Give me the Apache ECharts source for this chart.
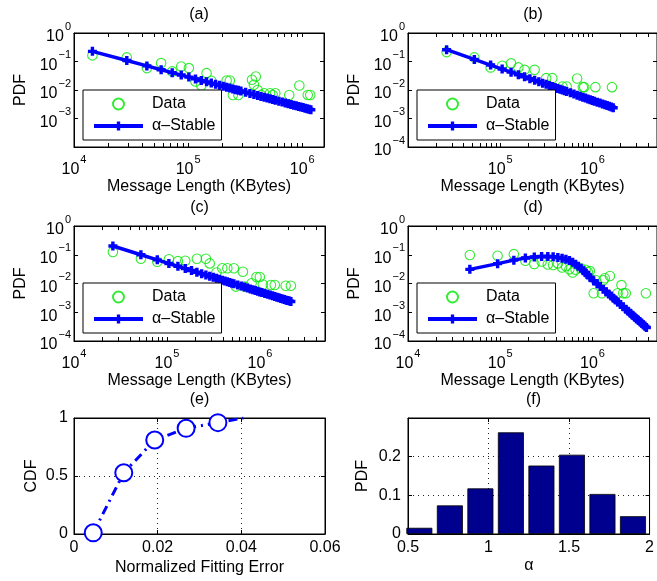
<!DOCTYPE html>
<html><head><meta charset="utf-8">
<script src="https://cdn.jsdelivr.net/npm/echarts@6/dist/echarts.min.js"></script>
<style>html,body{margin:0;padding:0;background:#fff;overflow:hidden}#c{width:657px;height:581px}</style>
</head><body><div id="c"></div><script>
// ---------------- data ----------------
const panelTitles = ['(a)', '(b)', '(c)', '(d)', '(e)', '(f)'];
const seriesNames = ['Data', '\u03B1\u2013Stable'];
const xNameLog = 'Message Length (KBytes)';
const yNameLog = 'PDF';

// (a)
const aDataX = [14500, 29000, 43500, 58000, 72500, 87000, 101500, 116000, 130500, 145000, 159500, 217500, 232000, 246500, 275500, 362500, 377000, 391500, 406000, 435000, 464000, 522000, 551000, 580000, 768500, 942500, 1116500, 1174500];
const aDataY = [0.164, 0.139, 0.0586, 0.088, 0.045, 0.067, 0.0586, 0.020, 0.0144, 0.039, 0.021, 0.0215, 0.0215, 0.0067, 0.0067, 0.0228, 0.0152, 0.0297, 0.0100, 0.0067, 0.0077, 0.0077, 0.0067, 0.0077, 0.0067, 0.0144, 0.0067, 0.0067];
const aLineX = [14500, 29000, 43500, 58000, 72500, 87000, 101500, 116000, 130500, 145000, 159500, 174000, 188500, 203000, 217500, 232000, 246500, 261000, 275500, 290000, 319000, 348000, 377000, 406000, 435000, 464000, 493000, 522000, 551000, 580000, 623500, 667000, 710500, 754000, 797500, 841000, 884500, 928000, 971500, 1015000, 1058500, 1102000, 1145500, 1189000];
const aLineY = [0.227, 0.1081, 0.0701, 0.0515, 0.0406, 0.0334, 0.0283, 0.0245, 0.0216, 0.0193, 0.01745, 0.0159, 0.01459, 0.01348, 0.01252, 0.01168, 0.01095, 0.0103, 0.00972, 0.0092, 0.00831, 0.00757, 0.00695, 0.00642, 0.00596, 0.00557, 0.00522, 0.00491, 0.00463, 0.00438, 0.00406, 0.00377, 0.00353, 0.00331, 0.00312, 0.00294, 0.00279, 0.00265, 0.00252, 0.00241, 0.0023, 0.00221, 0.00212, 0.00203];

// (b)
const bDataX = [26200, 52400, 78600, 104800, 131000, 157200, 183400, 235800, 314400, 366800, 471600, 524000, 681200, 786000, 812200, 1074200, 1624400];
const bDataY = [0.214, 0.139, 0.062, 0.071, 0.086, 0.062, 0.051, 0.051, 0.026, 0.026, 0.0133, 0.0133, 0.0254, 0.0126, 0.0126, 0.0126, 0.0126];
const bLineX = [26200, 52400, 78600, 104800, 131000, 157200, 183400, 209600, 235800, 262000, 288200, 314400, 340600, 366800, 393000, 419200, 445400, 471600, 497800, 524000, 576400, 628800, 681200, 733600, 786000, 838400, 890800, 943200, 995600, 1048000, 1126600, 1205200, 1283800, 1362400, 1441000, 1519600, 1598200, 1676800];
const bLineY = [0.259, 0.1186, 0.0751, 0.0543, 0.0423, 0.0344, 0.0289, 0.0249, 0.0218, 0.01936, 0.0174, 0.01577, 0.01441, 0.01326, 0.01227, 0.0114, 0.01065, 0.00999, 0.0094, 0.00887, 0.00797, 0.00723, 0.0066, 0.00608, 0.00562, 0.00523, 0.00488, 0.00458, 0.00431, 0.00406, 0.00375, 0.00347, 0.00323, 0.00303, 0.00284, 0.00268, 0.00253, 0.00239];

// (c)
const cDataX = [26200, 52400, 78600, 104800, 131000, 157200, 209600, 262000, 288200, 340600, 393000, 445400, 524000, 550200, 655000, 681200, 812200, 917000, 995600, 1074200, 1310000, 1441000, 1886400, 2148400];
const cDataY = [0.125, 0.073, 0.057, 0.07, 0.06, 0.062, 0.073, 0.073, 0.05, 0.024, 0.034, 0.034, 0.034, 0.0078, 0.0257, 0.0078, 0.0102, 0.0168, 0.0168, 0.0092, 0.0089, 0.0089, 0.0084, 0.0084];
const cLineX = [26200, 52400, 78600, 104800, 131000, 157200, 183400, 209600, 235800, 262000, 288200, 314400, 340600, 366800, 393000, 419200, 445400, 471600, 497800, 524000, 576400, 628800, 681200, 733600, 786000, 838400, 890800, 943200, 995600, 1048000, 1126600, 1205200, 1283800, 1362400, 1441000, 1519600, 1598200, 1676800, 1755400, 1834000, 1912600, 1991200, 2069800, 2148400];
const cLineY = [0.201, 0.1, 0.0664, 0.0497, 0.0396, 0.033, 0.0282, 0.0247, 0.0219, 0.01968, 0.01788, 0.01637, 0.0151, 0.014, 0.01306, 0.01224, 0.01151, 0.01087, 0.01029, 0.00977, 0.00887, 0.00813, 0.0075, 0.00696, 0.00649, 0.00608, 0.00572, 0.0054, 0.00511, 0.00485, 0.00451, 0.00421, 0.00395, 0.00372, 0.00352, 0.00333, 0.00317, 0.00302, 0.00288, 0.00276, 0.00264, 0.00254, 0.00244, 0.00235];

// (d)
const dDataX = [46800, 93600, 140400, 187200, 234000, 280800, 327600, 374400, 421200, 468000, 514800, 561600, 608400, 655200, 748800, 842400, 889200, 936000, 1029600, 1076400, 1263600, 1310400, 1357200, 1544400, 1872000, 2059200, 2152800, 2293200, 3790800];
const dDataY = [0.098, 0.092, 0.105, 0.062, 0.048, 0.058, 0.046, 0.044, 0.05, 0.036, 0.04, 0.031, 0.024, 0.03, 0.034, 0.03, 0.025, 0.027, 0.0046, 0.0132, 0.0046, 0.013, 0.0152, 0.0183, 0.0046, 0.0088, 0.0046, 0.0046, 0.0046];
const dLineX = [46800, 93600, 140400, 187200, 234000, 280800, 327600, 374400, 421200, 468000, 514800, 561600, 608400, 655200, 702000, 748800, 795600, 842400, 889200, 936000, 1029600, 1123200, 1216800, 1310400, 1404000, 1497600, 1591200, 1684800, 1778400, 1872000, 2012400, 2152800, 2293200, 2433600, 2574000, 2714400, 2854800, 2995200, 3135600, 3276000, 3416400, 3556800, 3697200, 3837600];
const dLineY = [0.031, 0.049, 0.065, 0.077, 0.084, 0.087, 0.087, 0.085, 0.081, 0.076, 0.070, 0.063, 0.055, 0.047, 0.040, 0.034, 0.028, 0.0235, 0.0196, 0.0165, 0.01258, 0.00981, 0.00781, 0.00632, 0.0052, 0.00432, 0.00364, 0.00309, 0.00265, 0.00229, 0.00186, 0.00154, 0.00128, 0.00108, 0.000923, 0.000794, 0.000688, 0.0006, 0.000526, 0.000464, 0.000412, 0.000367, 0.000329, 0.000296];

// (e) CDF of normalized fitting error
const eX = [0.0046, 0.0119, 0.0193, 0.0268, 0.0344, 0.0405];
const eY = [0.01, 0.528, 0.81, 0.911, 0.96, 1.0];
const eMarkedCount = 5;
const eXName = 'Normalized Fitting Error';
const eYName = 'CDF';

// (f) histogram of alpha
const fCenters = [0.5705, 0.760, 0.9495, 1.139, 1.3285, 1.518, 1.7075, 1.897];
const fValues = [0.016, 0.074, 0.118, 0.263, 0.177, 0.205, 0.1035, 0.046];
const fXName = '\u03B1';
const fYName = 'PDF';

// tick labels
const logXLabelsA = [1e4, 1e5, 1e6];
const logXLabelsB = [1e5, 1e6];
const logYLabelsA = [1e-3, 1e-2, 1e-1, 1];
const logYLabelsFull = [1e-4, 1e-3, 1e-2, 1e-1, 1];
const eXTicks = [0, 0.02, 0.04, 0.06];
const eYTicks = [0, 0.5, 1];
const fXTicks = [0.5, 1, 1.5, 2];
const fYTicks = [0, 0.1, 0.2];

// ---------------- styling / layout ----------------
const FONT = '"Liberation Sans", Arial, Helvetica, sans-serif';
const BLUE = '#0000FF', GREEN = '#00E600', NAVY = '#00008F', BLACK = '#000';
const PLUS = 'path://M3.1,0H6.9V3.1H10V6.9H6.9V10H3.1V6.9H0V3.1H3.1Z';
const pts = (xs, ys) => xs.map((x, i) => [x, ys[i]]);

const grids = [
  {left: 74, top: 33, width: 250, height: 114},
  {left: 408, top: 33, width: 250, height: 114},
  {left: 74, top: 226, width: 251, height: 115},
  {left: 408, top: 226, width: 250, height: 115},
  {left: 74, top: 418, width: 251, height: 116},
  {left: 408, top: 418, width: 251, height: 116}
];

const logPanels = [
  {xMax: 1.55e6, xLabels: logXLabelsA, yLabels: logYLabelsA, dX: aDataX, dY: aDataY, lX: aLineX, lY: aLineY, legend: {left: 83, top: 90}},
  {xMax: 5e6, xLabels: logXLabelsB, yLabels: logYLabelsFull, dX: bDataX, dY: bDataY, lX: bLineX, lY: bLineY, legend: {left: 417, top: 90}},
  {xMax: 5e6, xLabels: logXLabelsA, yLabels: logYLabelsFull, dX: cDataX, dY: cDataY, lX: cLineX, lY: cLineY, legend: {left: 83, top: 283}},
  {xMax: 5e6, xLabels: logXLabelsA, yLabels: logYLabelsFull, dX: dDataX, dY: dDataY, lX: dLineX, lY: dLineY, legend: {left: 417, top: 283}}
];

function logLabel(v) {
  const l = Math.log10(v), e = Math.round(l);
  if (Math.abs(l - e) > 1e-6) return '';
  return '{b|10}{e|' + (e < 0 ? '\u2212' + (-e) : e) + '}';
}
const logRich = {
  b: {fontSize: 16, fontFamily: FONT, color: BLACK, lineHeight: 24, verticalAlign: 'bottom'},
  e: {fontSize: 11, fontFamily: FONT, color: BLACK, lineHeight: 11, verticalAlign: 'top', padding: [0, 0, 0, 1]}
};
function logTickValues(lo, hi) {
  const out = [];
  for (let p = Math.floor(Math.log10(lo)); p <= Math.ceil(Math.log10(hi)); p++) {
    for (let m = 1; m <= 9; m++) {
      const v = m * Math.pow(10, p);
      if (v >= lo * 0.999 && v <= hi * 1.001) out.push(v);
    }
  }
  return out;
}
function decadeValues(lo, hi) {
  const out = [];
  for (let p = Math.round(Math.log10(lo)); p <= Math.round(Math.log10(hi)); p++) out.push(Math.pow(10, p));
  return out;
}
const axisLine = {show: true, onZero: false, lineStyle: {color: BLACK, width: 1}};
const nameStyle = {fontSize: 16, fontFamily: FONT, color: BLACK};
const labelStyle = {fontSize: 16, fontFamily: FONT, color: BLACK};
const dotted = {show: true, lineStyle: {color: '#222', width: 1, type: [1, 4]}};

const xAxes = [], yAxes = [], series = [], legends = [], graphics = [];

logPanels.forEach((p, i) => {
  const xTicks = logTickValues(1e4, p.xMax);
  const yTicks = decadeValues(1e-4, 1);
  const xBase = {type: 'log', logBase: 10, min: 1e4, max: p.xMax, gridIndex: i, axisLine, splitLine: {show: false}};
  xAxes.push(Object.assign({}, xBase, {
    position: 'bottom',
    axisTick: {show: true, inside: true, length: 4, customValues: xTicks, lineStyle: {color: BLACK}},
    axisLabel: {show: true, customValues: p.xLabels, formatter: logLabel, rich: logRich, margin: 7, showMinLabel: true, showMaxLabel: true},
    name: xNameLog, nameLocation: 'middle', nameGap: 32, nameTextStyle: nameStyle
  }));
  xAxes.push(Object.assign({}, xBase, {
    position: 'top',
    axisTick: {show: true, inside: true, length: 4, customValues: xTicks, lineStyle: {color: BLACK}},
    axisLabel: {show: false}
  }));
  const yBase = {type: 'log', logBase: 10, min: 1e-4, max: 1, gridIndex: i, axisLine, splitLine: {show: false}};
  yAxes.push(Object.assign({}, yBase, {
    position: 'left',
    axisTick: {show: true, inside: true, length: 4, customValues: yTicks, lineStyle: {color: BLACK}},
    axisLabel: {show: true, customValues: p.yLabels, formatter: logLabel, rich: logRich, margin: 3, showMinLabel: true, showMaxLabel: true},
    name: yNameLog, nameLocation: 'middle', nameGap: 45, nameTextStyle: nameStyle
  }));
  yAxes.push(Object.assign({}, yBase, {
    position: 'right',
    axisTick: {show: true, inside: true, length: 4, customValues: yTicks, lineStyle: {color: BLACK}},
    axisLabel: {show: false}
  }));
  series.push({
    type: 'scatter', name: seriesNames[0], xAxisIndex: 2 * i, yAxisIndex: 2 * i,
    data: pts(p.dX, p.dY), symbol: 'circle', symbolSize: 9.5,
    itemStyle: {color: 'rgba(255,255,255,0)', borderColor: GREEN, borderWidth: 1.1},
    z: 2, silent: true
  });
  series.push({
    type: 'line', name: seriesNames[1], xAxisIndex: 2 * i, yAxisIndex: 2 * i,
    data: pts(p.lX, p.lY), symbol: PLUS, symbolSize: 9, showSymbol: true,
    lineStyle: {color: BLUE, width: 3.5}, itemStyle: {color: BLUE},
    z: 3, silent: true
  });
  legends.push({
    data: seriesNames, orient: 'vertical', left: p.legend.left, top: p.legend.top,
    itemWidth: 49, itemHeight: 11, itemGap: 6, padding: [6, 6, 6, 9],
    backgroundColor: '#fff', borderColor: BLACK, borderWidth: 1, borderRadius: 0,
    lineStyle: {width: 4},
    selectedMode: false, textStyle: {fontSize: 16, fontFamily: FONT, color: BLACK, padding: [0, 0, 0, 4]}
  });
});

// (e)
{
  const gi = 4;
  const fmt = v => (Math.abs(v) < 1e-9 ? '0' : String(+v.toFixed(2)));
  xAxes.push({type: 'value', gridIndex: gi, min: 0, max: 0.06, interval: 0.02, position: 'bottom', axisLine,
    axisTick: {show: true, inside: true, length: 4, lineStyle: {color: BLACK}},
    axisLabel: Object.assign({customValues: eXTicks, formatter: fmt, margin: 6}, labelStyle),
    splitLine: dotted, name: eXName, nameLocation: 'middle', nameGap: 26, nameTextStyle: nameStyle});
  xAxes.push({type: 'value', gridIndex: gi, min: 0, max: 0.06, interval: 0.02, position: 'top', axisLine,
    axisTick: {show: true, inside: true, length: 4, lineStyle: {color: BLACK}}, axisLabel: {show: false}, splitLine: {show: false}});
  yAxes.push({type: 'value', gridIndex: gi, min: 0, max: 1, interval: 0.5, position: 'left', axisLine,
    axisTick: {show: true, inside: true, length: 4, lineStyle: {color: BLACK}},
    axisLabel: Object.assign({customValues: eYTicks, formatter: v => String(v), margin: 6}, labelStyle),
    splitLine: dotted, name: eYName, nameLocation: 'middle', nameGap: 34, nameTextStyle: nameStyle});
  yAxes.push({type: 'value', gridIndex: gi, min: 0, max: 1, interval: 0.5, position: 'right', axisLine,
    axisTick: {show: true, inside: true, length: 4, lineStyle: {color: BLACK}}, axisLabel: {show: false}, splitLine: {show: false}});
  series.push({
    type: 'line', xAxisIndex: 8, yAxisIndex: 8, z: 3, silent: true,
    data: pts(eX, eY).map((v, i) => (i < eMarkedCount ? {value: v} : {value: v, symbol: 'none'})),
    symbol: 'emptyCircle', symbolSize: 17, showSymbol: true,
    lineStyle: {color: BLUE, width: 3, type: [9, 5, 2, 5]},
    itemStyle: {color: BLUE, borderColor: BLUE, borderWidth: 3}
  });
}

// (f)
{
  const gi = 5;
  xAxes.push({type: 'value', gridIndex: gi, min: 0.5, max: 2, interval: 0.5, position: 'bottom', axisLine,
    axisTick: {show: true, inside: true, length: 4, lineStyle: {color: BLACK}},
    axisLabel: Object.assign({customValues: fXTicks, formatter: v => String(v), margin: 6}, labelStyle),
    splitLine: dotted, name: fXName, nameLocation: 'middle', nameGap: 24, nameTextStyle: nameStyle});
  xAxes.push({type: 'value', gridIndex: gi, min: 0.5, max: 2, interval: 0.5, position: 'top', axisLine,
    axisTick: {show: true, inside: true, length: 4, lineStyle: {color: BLACK}}, axisLabel: {show: false}, splitLine: {show: false}});
  yAxes.push({type: 'value', gridIndex: gi, min: 0, max: 0.3, interval: 0.1, position: 'left', axisLine,
    axisTick: {show: true, inside: true, length: 4, lineStyle: {color: BLACK}},
    axisLabel: Object.assign({customValues: fYTicks, formatter: v => (Math.abs(v) < 1e-9 ? '0' : v.toFixed(1)), margin: 7}, labelStyle),
    splitLine: {show: true, lineStyle: {color: '#222', width: 1, type: [1, 4]}},
    name: fYName, nameLocation: 'middle', nameGap: 37, nameTextStyle: nameStyle});
  yAxes.push({type: 'value', gridIndex: gi, min: 0, max: 0.3, interval: 0.1, position: 'right', axisLine,
    axisTick: {show: true, inside: true, length: 4, lineStyle: {color: BLACK}}, axisLabel: {show: false}, splitLine: {show: false}});
  series.push({
    type: 'bar', xAxisIndex: 10, yAxisIndex: 10, z: 3, silent: true,
    data: pts(fCenters, fValues), barWidth: 26,
    itemStyle: {color: NAVY, borderColor: BLACK, borderWidth: 0.8}
  });
}

// panel titles
grids.forEach((g, i) => {
  graphics.push({type: 'text', x: g.left + g.width / 2, y: g.top - 18, silent: true, z: 10,
    style: {text: panelTitles[i], font: '16px ' + FONT, fill: BLACK, align: 'center', verticalAlign: 'middle'}});
});

const chart = echarts.init(document.getElementById('c'), null, {renderer: 'canvas'});
chart.setOption({
  animation: false,
  backgroundColor: '#fff',
  grid: grids.map(g => Object.assign({show: true, borderColor: BLACK, borderWidth: 1, backgroundColor: '#fff', containLabel: false}, g)),
  xAxis: xAxes,
  yAxis: yAxes,
  legend: legends,
  series: series,
  graphic: graphics
});
</script></body></html>
